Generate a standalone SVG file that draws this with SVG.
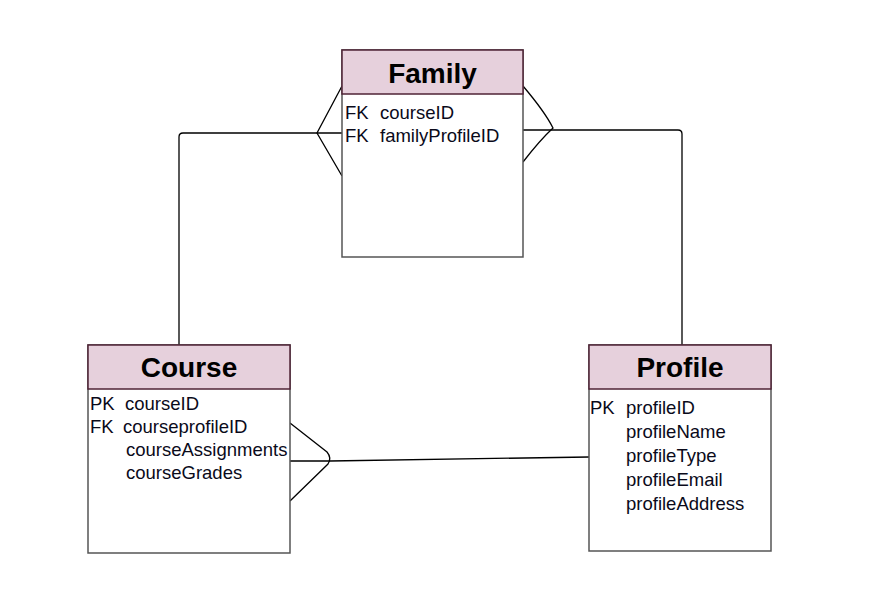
<svg xmlns="http://www.w3.org/2000/svg" width="876" height="594" viewBox="0 0 876 594">
<style>
.body{fill:#ffffff;stroke:#555555;stroke-width:1.5}
.head{fill:#e6d0dc;stroke:#4f2336;stroke-width:1.5}
.title{font-family:"Liberation Sans",Arial,sans-serif;font-size:28px;font-weight:bold;fill:#000;text-anchor:middle}
.attr{font-family:"Liberation Sans",Arial,sans-serif;font-size:18.5px;fill:#0a0a1a}
.conn{fill:none;stroke:#000;stroke-width:1.3}
</style>
<rect width="876" height="594" fill="#ffffff"/>
<g id="connectors">
  <path class="conn" d="M179,345 V137 Q179,133 183,133 H342"/>
  <path class="conn" d="M342,86 L317,133 L342,176"/>
  <path class="conn" d="M523,130 H678 Q682,130 682,134 V345"/>
  <path class="conn" d="M523,86 Q545,112 553,128 Q540,140 523,162"/>
  <path class="conn" d="M290,461 H330 L589,457"/>
  <path class="conn" d="M290,423 L327,452 Q332,458 328,464 L290,501"/>
</g>
<g id="family">
  <rect class="body" x="342" y="50" width="181" height="207"/>
  <rect class="head" x="342" y="50" width="181" height="44"/>
  <text class="title" x="432.5" y="83">Family</text>
  <text class="attr" x="345" y="119">FK</text>
  <text class="attr" x="380" y="119">courseID</text>
  <text class="attr" x="345" y="142">FK</text>
  <text class="attr" x="380" y="142">familyProfileID</text>
</g>
<g id="course">
  <rect class="body" x="88" y="345" width="202" height="208"/>
  <rect class="head" x="88" y="345" width="202" height="44"/>
  <text class="title" x="189" y="377">Course</text>
  <text class="attr" x="90" y="410">PK</text>
  <text class="attr" x="125" y="410">courseID</text>
  <text class="attr" x="90" y="433">FK</text>
  <text class="attr" x="123" y="433">courseprofileID</text>
  <text class="attr" x="126" y="456">courseAssignments</text>
  <text class="attr" x="126" y="479">courseGrades</text>
</g>
<g id="profile">
  <rect class="body" x="589" y="345" width="182" height="206"/>
  <rect class="head" x="589" y="345" width="182" height="44"/>
  <text class="title" x="680" y="377">Profile</text>
  <text class="attr" x="590" y="414">PK</text>
  <text class="attr" x="626" y="414">profileID</text>
  <text class="attr" x="626" y="438">profileName</text>
  <text class="attr" x="626" y="462">profileType</text>
  <text class="attr" x="626" y="486">profileEmail</text>
  <text class="attr" x="626" y="510">profileAddress</text>
</g>
</svg>
